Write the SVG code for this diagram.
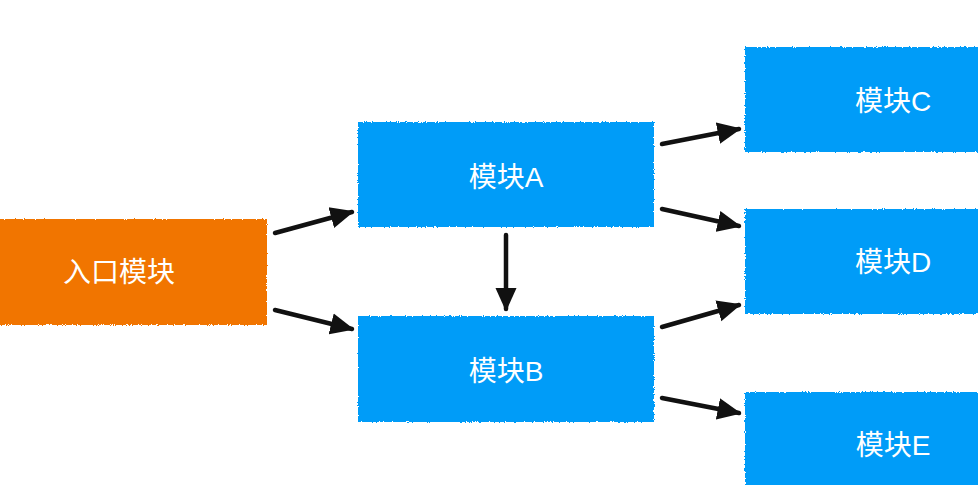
<svg xmlns="http://www.w3.org/2000/svg" width="978" height="485" viewBox="0 0 978 485">
  <defs>
    <filter id="rough" x="-5%" y="-5%" width="110%" height="110%">
      <feTurbulence type="fractalNoise" baseFrequency="0.9" numOctaves="2" seed="3" result="n"/>
      <feDisplacementMap in="SourceGraphic" in2="n" scale="3" xChannelSelector="R" yChannelSelector="G"/>
    </filter>
    <marker id="ah" viewBox="0 0 10 10" refX="9" refY="5" markerWidth="5.3" markerHeight="5.3" markerUnits="strokeWidth" orient="auto">
      <path d="M0,0.5 L10,5 L0,9.5 Z" fill="#111"/>
    </marker>
    <style>
      .blue { fill: #069CF8; }
      .orange { fill: #F17504; }
      .lbl { fill: #ffffff; font-family: "Liberation Sans", "Noto Sans CJK SC", sans-serif; font-size: 28px; text-anchor: middle; dominant-baseline: central; }
      .conn { stroke: #111; stroke-width: 4.5; fill: none; stroke-linecap: round; marker-end: url(#ah); }
    </style>
  </defs>
  <rect width="978" height="485" fill="#ffffff"/>
  <g id="entry">
    <rect class="orange" x="-20" y="219" width="287" height="106" filter="url(#rough)"/>
    <text class="lbl" x="119" y="272">入口模块</text>
  </g>
  <g id="moduleA">
    <rect class="blue" x="358" y="122" width="296" height="105" filter="url(#rough)"/>
    <text class="lbl" x="506" y="177">模块A</text>
  </g>
  <g id="moduleB">
    <rect class="blue" x="358" y="316" width="296" height="106" filter="url(#rough)"/>
    <text class="lbl" x="506" y="371">模块B</text>
  </g>
  <g id="moduleC">
    <rect class="blue" x="745" y="47" width="250" height="105" filter="url(#rough)"/>
    <text class="lbl" x="893" y="101">模块C</text>
  </g>
  <g id="moduleD">
    <rect class="blue" x="745" y="209" width="250" height="105" filter="url(#rough)"/>
    <text class="lbl" x="893" y="262">模块D</text>
  </g>
  <g id="moduleE">
    <rect class="blue" x="745" y="392" width="250" height="110" filter="url(#rough)"/>
    <text class="lbl" x="893" y="445">模块E</text>
  </g>
  <g id="connectors">
    <line class="conn" x1="275" y1="233" x2="352" y2="212"/>
    <line class="conn" x1="275" y1="310" x2="352" y2="329"/>
    <line class="conn" x1="506" y1="235" x2="506" y2="309"/>
    <line class="conn" x1="662" y1="144" x2="739" y2="129"/>
    <line class="conn" x1="662" y1="209" x2="739" y2="226"/>
    <line class="conn" x1="662" y1="327" x2="739" y2="305"/>
    <line class="conn" x1="662" y1="398" x2="739" y2="413"/>
  </g>
</svg>
